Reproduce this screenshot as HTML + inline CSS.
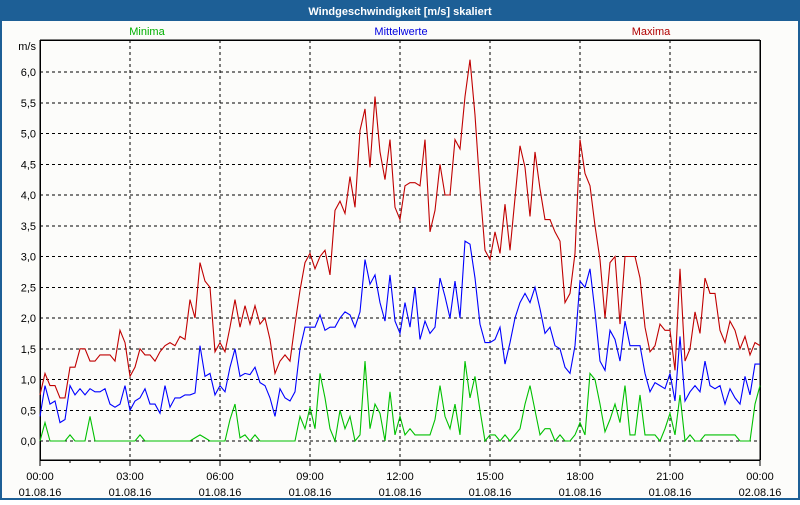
<!DOCTYPE html>
<html><head><meta charset="utf-8"><style>
body{margin:0;background:#fff}
svg text{font-family:"Liberation Sans",sans-serif;font-size:11px}
</style></head><body>
<svg id="chart" width="800" height="500" viewBox="0 0 800 500">
<rect x="0" y="0" width="800" height="500" fill="#1d5f96"/>
<rect x="2" y="21" width="796" height="477" fill="#fcfcfa"/>
<text x="400" y="15" text-anchor="middle" fill="#fff" font-weight="bold">Windgeschwindigkeit [m/s] skaliert</text>
<text x="147" y="35" text-anchor="middle" fill="#00b000">Minima</text>
<text x="401" y="35" text-anchor="middle" fill="#0000e0">Mittelwerte</text>
<text x="651" y="35" text-anchor="middle" fill="#b00000">Maxima</text>
<text x="36" y="50" text-anchor="end" fill="#000">m/s</text>
<g id="grid" shape-rendering="crispEdges"></g><g id="axes" shape-rendering="crispEdges"></g><g id="series"></g>
</svg>
<script>
const yTicks=[0,0.5,1,1.5,2,2.5,3,3.5,4,4.5,5,5.5,6];
const yTickLabels=["0,0","0,5","1,0","1,5","2,0","2,5","3,0","3,5","4,0","4,5","5,0","5,5","6,0"];
const xTickHours=[0,3,6,9,12,15,18,21,24];
const xTickTimes=["00:00","03:00","06:00","09:00","12:00","15:00","18:00","21:00","00:00"];
const xTickDates=["01.08.16","01.08.16","01.08.16","01.08.16","01.08.16","01.08.16","01.08.16","01.08.16","02.08.16"];
const maxima=[0.75,1.1,0.9,0.9,0.7,0.7,1.2,1.2,1.5,1.5,1.3,1.3,1.4,1.4,1.4,1.3,1.8,1.6,1.05,1.2,1.5,1.4,1.4,1.3,1.45,1.55,1.6,1.55,1.7,1.65,2.3,2.0,2.9,2.6,2.5,1.45,1.6,1.45,1.85,2.3,1.85,2.2,1.9,2.2,1.9,2.0,1.65,1.1,1.3,
1.4,1.3,1.9,2.45,2.9,3.05,2.8,3.0,3.1,2.7,3.75,3.9,3.7,4.3,3.8,5.05,5.4,4.45,5.6,4.7,4.25,4.9,3.8,3.6,4.15,4.2,4.2,4.15,4.9,3.4,3.75,4.5,4.0,4.0,4.9,4.75,5.6,6.2,5.3,4.1,3.1,2.95,3.4,3.05,3.85,3.1,3.95,4.8,
4.45,3.65,4.7,4.1,3.6,3.6,3.4,3.25,2.25,2.4,3.05,4.9,4.35,4.15,3.5,2.95,2.0,2.9,3.0,1.9,3.0,3.0,3.0,2.65,1.85,1.45,1.55,1.9,1.8,1.8,1.15,2.8,1.3,1.5,2.1,1.75,2.65,2.4,2.4,1.8,1.6,1.95,1.8,1.5,1.7,1.4,1.6,1.55];
const mittel=[0.4,0.9,0.6,0.65,0.3,0.35,0.9,0.75,0.85,0.75,0.85,0.8,0.8,0.85,0.6,0.55,0.6,0.9,0.5,0.65,0.7,0.85,0.6,0.6,0.45,0.9,0.55,0.7,0.7,0.75,0.75,0.78,1.55,1.05,1.1,0.75,0.9,0.8,1.2,1.5,1.05,1.1,1.08,1.2,0.95,0.9,0.7,0.4,0.85,
0.7,0.65,0.8,1.5,1.85,1.85,1.85,2.05,1.8,1.85,1.85,2.0,2.1,2.05,1.85,2.1,2.95,2.55,2.7,2.25,1.95,2.7,1.95,1.75,2.25,1.85,2.5,1.65,1.95,1.75,1.85,2.65,2.35,2.0,2.6,2.0,3.25,3.2,2.65,1.9,1.6,1.6,1.65,1.85,1.25,1.6,2.0,2.25,
2.4,2.25,2.5,2.15,1.75,1.85,1.55,1.5,1.2,1.1,1.55,2.6,2.5,2.8,2.1,1.3,1.15,1.8,1.65,1.3,1.95,1.55,1.55,1.55,1.1,0.8,0.95,0.9,0.85,1.1,0.65,1.7,0.65,0.8,0.9,0.8,1.3,0.9,0.85,0.9,0.6,0.85,0.7,0.6,1.05,0.75,1.25,1.25];
const minima=[0,0.3,0,0,0,0,0.1,0,0,0,0.4,0,0,0,0,0,0,0,0,0,0.1,0,0,0,0,0,0,0,0,0,0,0.05,0.1,0.05,0,0,0,0,0.35,0.6,0.05,0.1,0,0.1,0,0,0,0,0,
0,0,0,0.4,0.2,0.55,0.2,1.1,0.7,0.2,0,0.5,0.2,0.4,0,0.1,1.3,0.2,0.6,0.45,0,0.8,0.1,0.4,0.1,0.2,0.1,0.1,0.1,0.1,0.35,0.9,0.4,0.2,0.6,0.1,1.3,0.7,1.05,0.5,0,0.1,0.1,0,0.1,0,0.1,0.2,
0.6,0.9,0.5,0.1,0.2,0.2,0,0.1,0,0,0.1,0.3,0.1,1.1,1.0,0.6,0.15,0.35,0.6,0.3,0.9,0.1,0.1,0.75,0.1,0.1,0.1,0,0.2,0.45,0.1,0.75,0,0.1,0,0,0.1,0.1,0.1,0.1,0.1,0.1,0.1,0,0,0,0.6,0.9];
const NS="http://www.w3.org/2000/svg";
const X0=40,X1=760,Y0=441,PER=61.5;
function xH(h){return X0+(X1-X0)*h/24;}
function xI(i,n){return X0+(X1-X0)*i/(n-1);}
function yV(v){return Y0-v*PER;}
function mk(tag,attrs,parent){const e=document.createElementNS(NS,tag);for(const k in attrs)e.setAttribute(k,attrs[k]);parent.appendChild(e);return e;}
const grid=document.getElementById('grid'),axes=document.getElementById('axes'),series=document.getElementById('series');
yTicks.forEach((v,i)=>{
 const l=mk('line',{x1:X0,x2:X1,y1:yV(v),y2:yV(v),stroke:'#000','stroke-dasharray':'3,3'},grid);
 
 
 const t=mk('text',{x:36,y:yV(v)+4,'text-anchor':'end',fill:'#000'},axes);t.textContent=yTickLabels[i];
 
 
});
xTickHours.forEach((h,i)=>{
 if(h>0&&h<24){const l=mk('line',{x1:xH(h),x2:xH(h),y1:40,y2:465,stroke:'#000','stroke-dasharray':'3,3'},grid);
 
 }
 const t=mk('text',{x:xH(h),y:480,'text-anchor':'middle',fill:'#000'},axes);t.textContent=xTickTimes[i];
 
 
 const d=mk('text',{x:xH(h),y:496,'text-anchor':'middle',fill:'#000'},axes);d.textContent=xTickDates[i];
 
 
});
for(let h=0;h<=24;h++){const l=mk('line',{x1:xH(h),x2:xH(h),y1:460,y2:h%3==0?466:463,stroke:'#000'},axes);
 
 }
const la=mk('line',{x1:X0,x2:X0,y1:40,y2:460,stroke:'#000','stroke-width':1.5},axes);


const ra=mk('line',{x1:X1,x2:X1,y1:40,y2:460,stroke:'#000','stroke-width':1.5},axes);


const ta=mk('line',{x1:X0,x2:X1,y1:40,y2:40,stroke:'#000','stroke-width':1.5},axes);


const ba=mk('line',{x1:X0,x2:X1,y1:460,y2:460,stroke:'#000','stroke-width':1.5},axes);


function draw(arr,color,name){
 const pts=arr.map((v,i)=>xI(i,arr.length).toFixed(1)+','+yV(v).toFixed(1)).join(' ');
 const p=mk('polyline',{points:pts,fill:'none',stroke:color,'stroke-width':1.1},series);
 
 
}
draw(minima,'#00c000','minima-line');
draw(mittel,'#0000ff','mittelwerte-line');
draw(maxima,'#c00000','maxima-line');
</script>
</body></html>
